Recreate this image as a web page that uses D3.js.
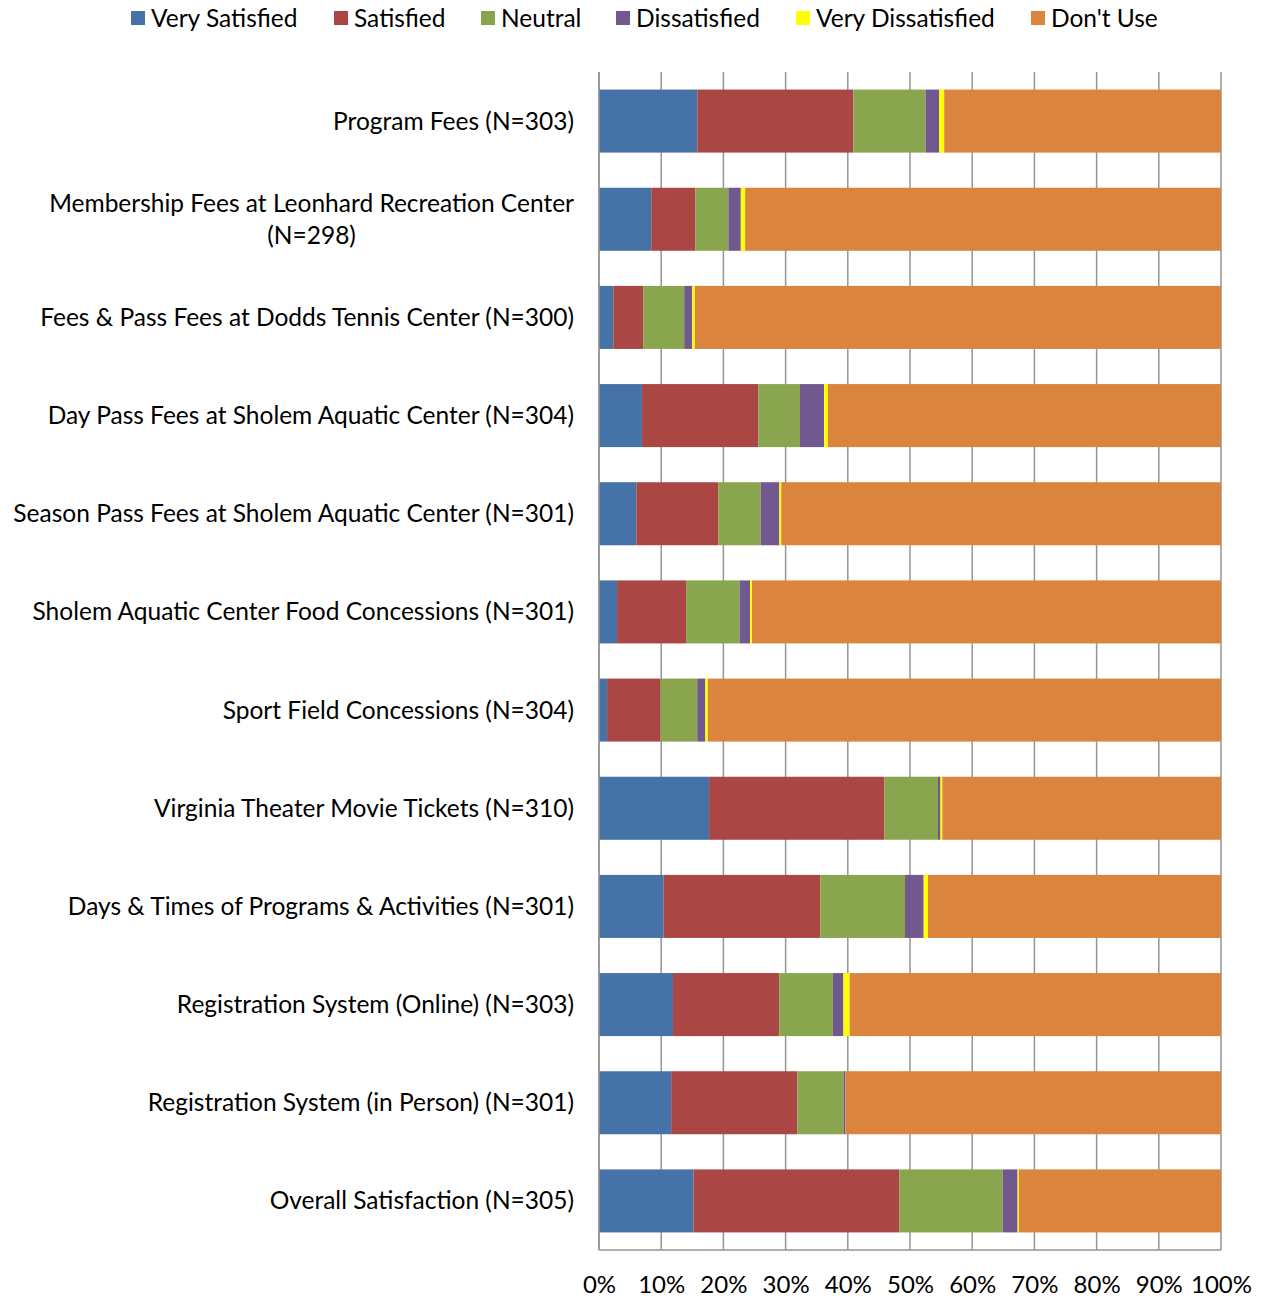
<!DOCTYPE html>
<html>
<head>
<meta charset="utf-8">
<script src="https://cdn.jsdelivr.net/npm/d3@7"></script>
<style>
  html, body { margin: 0; padding: 0; background: #fff; }
  svg { display: block; }
  text { font-family: Lato, "Open Sans", sans-serif; fill: #000; }
</style>
</head>
<body>
<svg id="chart" width="1263" height="1299"></svg>
<script>
// Satisfaction survey: share of responses per item (percent)
const categories = [
  "Program Fees (N=303)",
  "Membership Fees at Leonhard Recreation Center (N=298)",
  "Fees & Pass Fees at Dodds Tennis Center (N=300)",
  "Day Pass Fees at Sholem Aquatic Center (N=304)",
  "Season Pass Fees at Sholem Aquatic Center (N=301)",
  "Sholem Aquatic Center Food Concessions (N=301)",
  "Sport Field Concessions (N=304)",
  "Virginia Theater Movie Tickets (N=310)",
  "Days & Times of Programs & Activities (N=301)",
  "Registration System (Online) (N=303)",
  "Registration System (in Person) (N=301)",
  "Overall Satisfaction (N=305)"
];

const seriesNames = ["Very Satisfied", "Satisfied", "Neutral", "Dissatisfied", "Very Dissatisfied", "Don't Use"];

const verySatisfied    = [15.8,  8.4,  2.3,  6.9,  6.0,  2.9,  1.3, 17.7, 10.4, 11.9, 11.6, 15.2];
const satisfied        = [25.1,  7.1,  4.8, 18.7, 13.2, 11.1,  8.6, 28.2, 25.2, 17.1, 20.3, 33.1];
const neutral          = [11.6,  5.3,  6.6,  6.7,  6.8,  8.6,  5.9,  8.6, 13.6,  8.6,  7.4, 16.6];
const dissatisfied     = [ 2.2,  2.0,  1.3,  3.9,  3.0,  1.7,  1.3,  0.4,  3.0,  1.7,  0.3,  2.4];
const veryDissatisfied = [ 0.8,  0.7,  0.4,  0.6,  0.3,  0.3,  0.4,  0.3,  0.7,  1.0,  0.0,  0.2];
const dontUse          = [44.5, 76.5, 84.6, 63.2, 70.7, 75.4, 82.5, 44.8, 47.1, 59.7, 60.4, 32.5];

const tickValues = [0, 10, 20, 30, 40, 50, 60, 70, 80, 90, 100];

const colors = ["#4572A7", "#AA4643", "#89A54E", "#71588F", "#FFFF00", "#DB843D"];

// rows for the stack layout
const seriesValues = [verySatisfied, satisfied, neutral, dissatisfied, veryDissatisfied, dontUse];
const rows = categories.map((c, i) => {
  const r = { category: c };
  seriesNames.forEach((s, k) => { r[s] = seriesValues[k][i]; });
  return r;
});

const svg = d3.select("#chart");
const margin = { top: 72, right: 42, bottom: 49, left: 599 };
const width = 1263 - margin.left - margin.right;
const height = 1299 - margin.top - margin.bottom;
const fontSize = 24.5;

const x = d3.scaleLinear().domain([0, 100]).range([0, width]);
const y = d3.scaleBand().domain(categories).range([0, height]).paddingInner(0.358).paddingOuter(0.179);
const color = d3.scaleOrdinal().domain(seriesNames).range(colors);

const g = svg.append("g").attr("transform", `translate(${margin.left},${margin.top})`);

// vertical gridlines
g.append("g")
  .selectAll("line")
  .data(tickValues)
  .join("line")
  .attr("x1", d => x(d)).attr("x2", d => x(d))
  .attr("y1", 0).attr("y2", height)
  .attr("stroke", "#959595")
  .attr("stroke-width", 1.5);

// stacked bars
const stacked = d3.stack().keys(seriesNames)(rows);
g.append("g")
  .selectAll("g")
  .data(stacked)
  .join("g")
  .attr("fill", d => color(d.key))
  .selectAll("rect")
  .data(d => d)
  .join("rect")
  .attr("x", d => x(d[0]))
  .attr("y", d => y(d.data.category))
  .attr("width", d => Math.max(0, x(d[1]) - x(d[0])))
  .attr("height", y.bandwidth());

// axes lines
g.append("line").attr("x1", 0).attr("x2", 0).attr("y1", 0).attr("y2", height)
  .attr("stroke", "#959595").attr("stroke-width", 1.5);
g.append("line").attr("x1", 0).attr("x2", width).attr("y1", height).attr("y2", height)
  .attr("stroke", "#959595").attr("stroke-width", 1.5);

// x tick labels
const xAxis = d3.axisBottom(x).tickValues(tickValues).tickFormat(d => d + "%").tickSize(0).tickPadding(26);
const xg = g.append("g").attr("transform", `translate(0,${height})`).call(xAxis);
xg.select(".domain").remove();
xg.selectAll("text").attr("font-size", 24).attr("font-family", "Lato, sans-serif").attr("fill", "#000");

// category labels, wrapped when wider than the label column
const labelRight = -25;
const maxLabelWidth = 565;
const labels = g.append("g").selectAll("text")
  .data(categories)
  .join("text")
  .attr("font-size", fontSize)
  .attr("y", d => y(d) + y.bandwidth() / 2);

labels.each(function (d) {
  const t = d3.select(this);
  const words = d.split(" ");
  const lines = [];
  let line = [];
  const probe = t.append("tspan");
  words.forEach(w => {
    line.push(w);
    probe.text(line.join(" "));
    if (probe.node().getComputedTextLength() > maxLabelWidth && line.length > 1) {
      line.pop();
      lines.push(line.join(" "));
      line = [w];
    }
  });
  lines.push(line.join(" "));
  probe.remove();
  const lh = 32;
  if (lines.length === 1) {
    t.attr("text-anchor", "end").attr("x", labelRight).attr("dy", "0.35em").text(lines[0]);
  } else {
    // multi-line labels are centred on the widest line, right edge at the column
    const tmp = t.append("tspan").text(lines[0]);
    let widest = 0;
    lines.forEach(l => { tmp.text(l); widest = Math.max(widest, tmp.node().getComputedTextLength()); });
    tmp.remove();
    const cx = labelRight - widest / 2;
    t.attr("text-anchor", "middle");
    lines.forEach((l, i) => {
      t.append("tspan")
        .attr("x", cx)
        .attr("dy", i === 0 ? (-(lines.length - 1) * lh / 2) + 0.35 * fontSize : lh)
        .text(l);
    });
  }
});

// legend
const legendItems = svg.append("g").attr("transform", "translate(0,18)");
const legendX = [131, 334, 481, 616, 796, 1031];
seriesNames.forEach((s, i) => {
  const it = legendItems.append("g").attr("transform", `translate(${legendX[i]},0)`);
  it.append("rect").attr("x", 0).attr("y", -7).attr("width", 14).attr("height", 14).attr("fill", color(s));
  it.append("text").attr("x", 20).attr("dy", "0.35em").attr("font-size", fontSize).text(s);
});
</script>
</body>
</html>
